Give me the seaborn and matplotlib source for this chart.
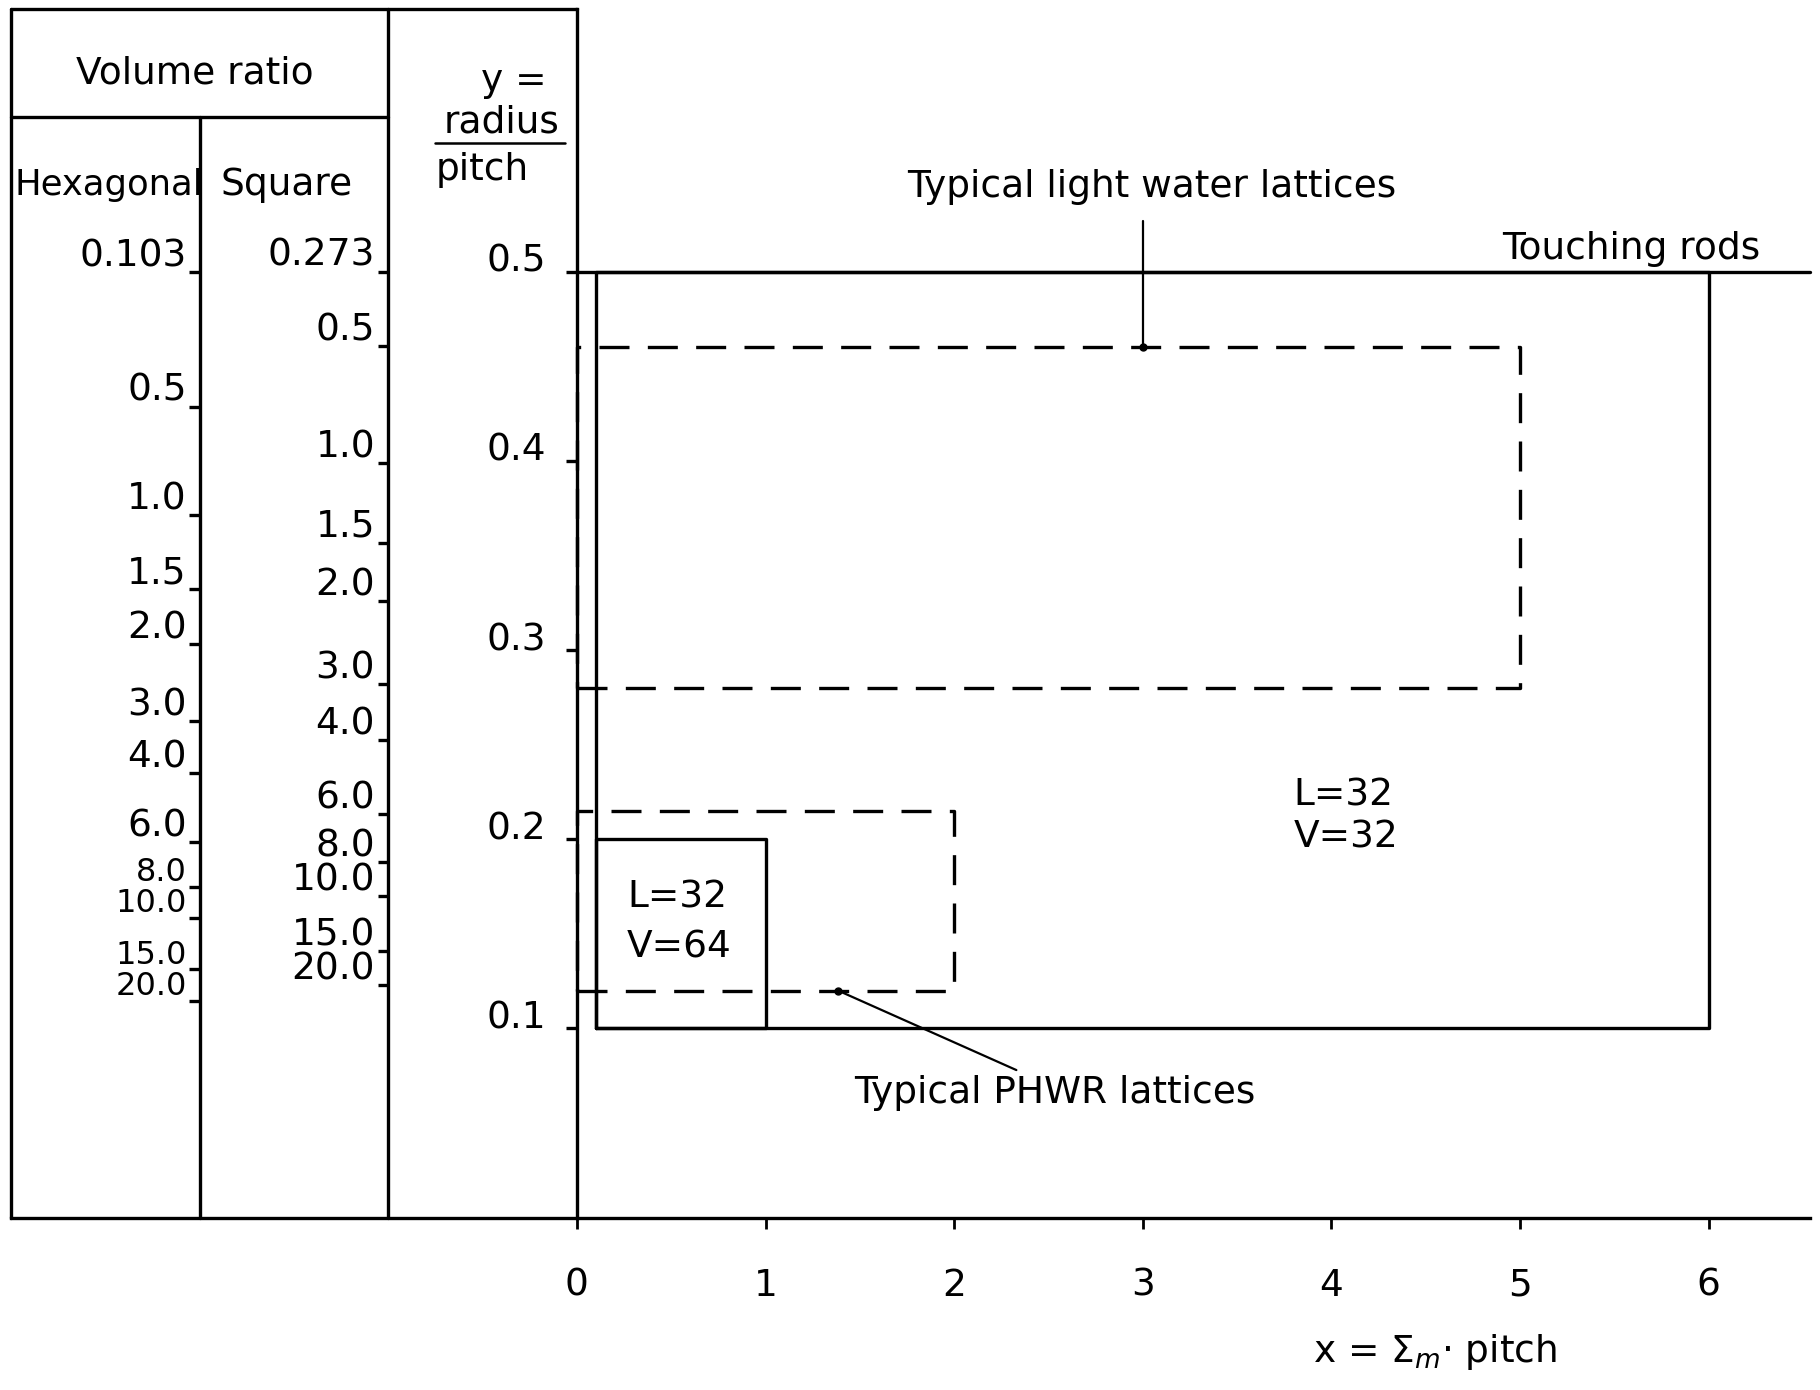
import numpy as np
import pandas as pd
import matplotlib.pyplot as plt
import seaborn as sns

# Volume ratio marks (moderator / fuel) for the two lattice types
hex_ratio = [0.103, 0.5, 1.0, 1.5, 2.0, 3.0, 4.0, 6.0, 8.0, 10.0, 15.0, 20.0]
hex_labels = ['0.103', '0.5', '1.0', '1.5', '2.0', '3.0', '4.0', '6.0', '8.0', '10.0', '15.0', '20.0']
square_ratio = [0.273, 0.5, 1.0, 1.5, 2.0, 3.0, 4.0, 6.0, 8.0, 10.0, 15.0, 20.0]
square_labels = ['0.273', '0.5', '1.0', '1.5', '2.0', '3.0', '4.0', '6.0', '8.0', '10.0', '15.0', '20.0']

# y = radius / pitch, x = Sigma_m * pitch
y_ticks = [0.1, 0.2, 0.3, 0.4, 0.5]
x_ticks = [0, 1, 2, 3, 4, 5, 6]

touching_y = 0.5
l32v32_x = [0.1, 6.0]
l32v32_y = [0.1, 0.5]
l32v64_x = [0.1, 1.0]
l32v64_y = [0.1, 0.2]
lwr_x = [0.0, 5.0]
lwr_y = [0.28, 0.46]
phwr_x = [0.0, 2.0]
phwr_y = [0.12, 0.215]
lwr_point = (3.0, 0.46)
phwr_point = (1.385, 0.12)


# radius/pitch for a given volume ratio
def hex_y(v):
    return np.sqrt(np.sqrt(3) / (2 * np.pi) / (1 + np.asarray(v)))


def square_y(v):
    return np.sqrt(1 / (np.pi * (1 + np.asarray(v))))


def box(xs, ys):
    return pd.DataFrame({'x': [xs[0], xs[1], xs[1], xs[0], xs[0]],
                         'y': [ys[0], ys[0], ys[1], ys[1], ys[0]]})


sns.set_theme(style='ticks')
plt.rcParams['font.family'] = ['DejaVu Sans']
plt.rcParams['font.size'] = 27
plt.rcParams['text.color'] = 'black'
plt.rcParams['xtick.labelcolor'] = 'black'
plt.rcParams['ytick.labelcolor'] = 'black'

fig = plt.figure(figsize=(18.2, 13.9), dpi=100)
ax = fig.add_axes([0, 0, 1, 1])

LW = 2.4
dash = (0, (9, 5.5))
x_end = 6.54
top = 0.6386
head = 0.582

# regions
for xs, ys, ls in [(l32v32_x, l32v32_y, '-'), (l32v64_x, l32v64_y, '-'),
                   (lwr_x, lwr_y, dash), (phwr_x, phwr_y, dash)]:
    sns.lineplot(data=box(xs, ys), x='x', y='y', sort=False, estimator=None,
                 color='black', lw=LW, linestyle=ls, ax=ax)
sns.lineplot(x=[0, x_end], y=[touching_y, touching_y], color='black', lw=LW, ax=ax)

# pointers to the typical lattices
ax.plot([lwr_point[0], lwr_point[0]], [lwr_point[1], 0.527], color='black', lw=1.6)
ax.plot(*lwr_point, 'o', color='black', ms=5)
ax.plot([phwr_point[0], 2.33], [phwr_point[1], 0.078], color='black', lw=1.6)
ax.plot(*phwr_point, 'o', color='black', ms=5)

# table frame on the left
ax.plot([-3.0, 0], [top, top], color='black', lw=LW)
ax.plot([-3.0, -3.0], [0, top], color='black', lw=LW)
ax.plot([-3.0, -1.0], [head, head], color='black', lw=LW)
ax.plot([-2.0, -2.0], [0, head], color='black', lw=LW)
ax.plot([-1.0, -1.0], [0, top], color='black', lw=LW)

ax.hlines(hex_y(hex_ratio), -2.055, -2.0, color='black', lw=LW)
for v, lab in zip(hex_ratio, hex_labels):
    fs = 23 if v >= 8 else 27
    ax.text(-2.07, hex_y(v) + 0.003, lab, ha='right', va='baseline', fontsize=fs)
ax.hlines(square_y(square_ratio), -1.055, -1.0, color='black', lw=LW)
for v, lab in zip(square_ratio, square_labels):
    ax.text(-1.07, square_y(v) + 0.003, lab, ha='right', va='baseline')

ax.text(-2.025, 0.605, 'Volume ratio', ha='center', va='center')
ax.text(-2.98, 0.546, 'Hexagonal', ha='left', va='center', fontsize=25.5)
ax.text(-1.54, 0.546, 'Square', ha='center', va='center')
ax.text(-0.16, 0.601, 'y =', ha='right', va='center')
ax.text(-0.4, 0.579, 'radius', ha='center', va='center')
ax.plot([-0.75, -0.065], [0.568, 0.568], color='black', lw=1.8)
ax.text(-0.75, 0.554, 'pitch', ha='left', va='center')

# annotations
ax.text(3.05, 0.545, 'Typical light water lattices', ha='center', va='center')
ax.text(5.59, 0.512, 'Touching rods', ha='center', va='center')
ax.text(3.8, 0.212, 'L=32\nV=32', ha='left', va='center', linespacing=1.2)
ax.text(0.265, 0.156, 'L=32\nV=64', ha='left', va='center', linespacing=1.5)
ax.text(2.535, 0.066, 'Typical PHWR lattices', ha='center', va='center')
ax.text(4.55, -0.071, r'x = $\Sigma_m$· pitch', ha='center', va='center')

# main axes
sns.despine(ax=ax)
ax.spines['left'].set_position(('data', 0))
ax.spines['left'].set_bounds(0, top)
ax.spines['bottom'].set_position(('data', 0))
ax.spines['bottom'].set_bounds(-3.0, x_end)
for s in ['left', 'bottom']:
    ax.spines[s].set_color('black')
    ax.spines[s].set_linewidth(LW)

ax.set_yticks(y_ticks, labels=[f'{v:.1f}' for v in y_ticks])
ax.set_xticks(x_ticks, labels=[str(v) for v in x_ticks])
ax.tick_params(axis='y', direction='out', length=8, width=LW, pad=14,
               labelsize=27, color='black')
ax.tick_params(axis='x', direction='out', length=8, width=2, pad=28,
               labelsize=27, color='black')
for lbl in ax.get_yticklabels():
    lbl.set_va('baseline')
ax.set_xlabel('')
ax.set_ylabel('')
ax.set_xlim(-3.059, 6.591)
ax.set_ylim(-0.0911, 0.6436)
ax.set_facecolor('white')

fig.savefig('out.png', dpi=100, facecolor='white')
